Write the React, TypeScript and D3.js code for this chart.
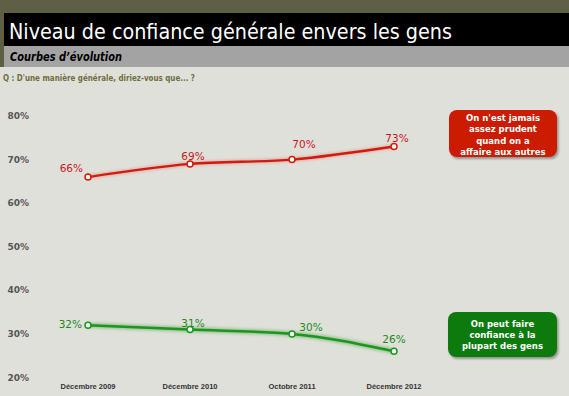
import React from "react";
import * as d3 from "d3";

const periods = ["Décembre 2009", "Décembre 2010", "Octobre 2011", "Décembre 2012"];
const prudentValues = [66, 69, 70, 73];
const confianceValues = [32, 31, 30, 26];
const yTicks = [20, 30, 40, 50, 60, 70, 80];
const prudentLabel = ["On n'est jamais", "assez prudent", "quand on a", "affaire aux autres"];
const confianceLabel = ["On peut faire", "confiance à la", "plupart des gens"];

const W = 569;
const H = 396;
const FONT = "Verdana, 'DejaVu Sans', sans-serif";

export default function App() {
  const x = d3.scalePoint<string>().domain(periods).range([88, 394]);
  const y = d3.scaleLinear().domain([20, 80]).range([377.5, 116]);
  const line = d3
    .line<number>()
    .x((_, i) => x(periods[i]) as number)
    .y((d) => y(d))
    .curve(d3.curveMonotoneX);

  const red = "#d41a0c";
  const redText = "#c8161e";
  const green = "#1c961c";
  const greenText = "#208a20";

  const redOffsets: [number, number, string][] = [
    [-5, -5, "end"],
    [3, -4, "middle"],
    [12, -12, "middle"],
    [3, -5, "middle"],
  ];
  const greenOffsets: [number, number, string][] = [
    [-6, 3, "end"],
    [3, -3, "middle"],
    [19, -3, "middle"],
    [0, -8, "middle"],
  ];

  return (
    <svg width={W} height={H} style={{ position: "absolute", left: 0, top: 0 }}>
      <defs>
        <filter id="shadow" x="-20%" y="-20%" width="150%" height="160%">
          <feDropShadow dx="1.5" dy="2" stdDeviation="1.2" floodColor="#000" floodOpacity="0.35" />
        </filter>
        <filter id="glow" x="-10%" y="-50%" width="120%" height="200%">
          <feGaussianBlur stdDeviation="1.5" />
        </filter>
      </defs>
      <rect x={0} y={0} width={W} height={H} fill="#e0e0da" />
      <rect x={0} y={0} width={W} height={13} fill="#5e5f45" />
      <rect x={0} y={13} width={4} height={54} fill="#5e5f45" />
      <rect x={4} y={13} width={W - 4} height={33} fill="#000" />
      <rect x={4} y={46} width={W - 4} height={21} fill="#a3a3a3" />
      <text
        x={9}
        y={38.5}
        fill="#fff"
        fontFamily="Tahoma, 'DejaVu Sans', sans-serif"
        fontSize={22}
        textLength={443}
        lengthAdjust="spacingAndGlyphs"
      >
        Niveau de confiance générale envers les gens
      </text>
      <text
        x={10}
        y={61}
        fill="#000"
        fontFamily="Tahoma, 'DejaVu Sans', sans-serif"
        fontSize={12}
        fontWeight="bold"
        fontStyle="italic"
        textLength={112}
        lengthAdjust="spacingAndGlyphs"
      >
        Courbes d’évolution
      </text>
      <text
        x={3}
        y={81}
        fill="#6f6f3c"
        fontFamily={FONT}
        fontSize={8.5}
        fontWeight="bold"
        textLength={192}
        lengthAdjust="spacingAndGlyphs"
      >
        Q : D'une manière générale, diriez-vous que... ?
      </text>

      {yTicks.map((t) => (
        <text
          key={t}
          x={29}
          y={y(t) + 3}
          textAnchor="end"
          fill="#555555"
          fontFamily={FONT}
          fontSize={9}
          fontWeight="bold"
        >
          {t}%
        </text>
      ))}

      {periods.map((p) => (
        <text
          key={p}
          x={x(p) as number}
          y={389}
          textAnchor="middle"
          fill="#333"
          fontFamily="'Liberation Sans', Arial, sans-serif"
          fontSize={7.5}
          fontWeight="bold"
        >
          {p}
        </text>
      ))}

      <path d={line(prudentValues) || ""} fill="none" stroke={red} strokeWidth={4} opacity={0.25} filter="url(#glow)" />
      <path d={line(prudentValues) || ""} fill="none" stroke={red} strokeWidth={2.3} />
      <path d={line(confianceValues) || ""} fill="none" stroke={green} strokeWidth={5} opacity={0.4} filter="url(#glow)" />
      <path d={line(confianceValues) || ""} fill="none" stroke={green} strokeWidth={2.5} />

      {prudentValues.map((v, i) => (
        <g key={"r" + i}>
          <circle cx={x(periods[i]) as number} cy={y(v)} r={3} fill="#fff" stroke={red} strokeWidth={1.5} />
          <text
            x={(x(periods[i]) as number) + redOffsets[i][0]}
            y={y(v) + redOffsets[i][1]}
            textAnchor={redOffsets[i][2] as any}
            fill={redText}
            fontFamily={FONT}
            fontSize={10.5}
          >
            {v}%
          </text>
        </g>
      ))}
      {confianceValues.map((v, i) => (
        <g key={"g" + i}>
          <circle cx={x(periods[i]) as number} cy={y(v)} r={3} fill="#fff" stroke={green} strokeWidth={1.5} />
          <text
            x={(x(periods[i]) as number) + greenOffsets[i][0]}
            y={y(v) + greenOffsets[i][1]}
            textAnchor={greenOffsets[i][2] as any}
            fill={greenText}
            fontFamily={FONT}
            fontSize={10.5}
          >
            {v}%
          </text>
        </g>
      ))}

      <rect x={449} y={110} width={108} height={47} rx={8} fill="#cc1b00" filter="url(#shadow)" />
      {prudentLabel.map((l, i) => (
        <text
          key={l}
          x={503}
          y={120.5 + i * 11.5}
          textAnchor="middle"
          fill="#fff"
          fontFamily={FONT}
          fontSize={8.5}
          fontWeight="bold"
        >
          {l}
        </text>
      ))}
      <rect x={448} y={312} width={109} height={45} rx={8} fill="#0b7a11" filter="url(#shadow)" />
      {confianceLabel.map((l, i) => (
        <text
          key={l}
          x={502.5}
          y={327 + i * 11}
          textAnchor="middle"
          fill="#fff"
          fontFamily={FONT}
          fontSize={8.5}
          fontWeight="bold"
        >
          {l}
        </text>
      ))}
    </svg>
  );
}
